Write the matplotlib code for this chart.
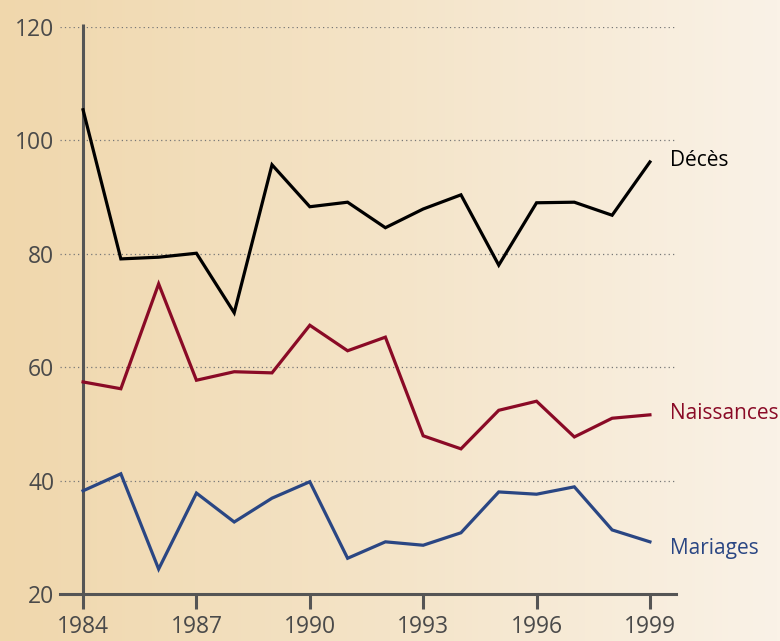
import numpy as np
import matplotlib
matplotlib.use("Agg")
import matplotlib.pyplot as plt
from matplotlib.colors import LinearSegmentedColormap

years = list(range(1984, 2000))
deces = [105.4, 79.1, 79.4, 80.1, 69.6, 95.7, 88.3, 89.1, 84.6, 87.9,
         90.4, 78.0, 89.0, 89.1, 86.8, 96.2]
naissances = [57.4, 56.2, 74.7, 57.7, 59.2, 59.0, 67.4, 62.9, 65.3, 47.9,
              45.6, 52.4, 54.0, 47.7, 51.0, 51.6]
mariages = [38.2, 41.2, 24.4, 37.8, 32.7, 36.9, 39.8, 26.3, 29.2, 28.6,
            30.8, 38.0, 37.6, 38.9, 31.3, 29.2]

series_names = ["Décès", "Naissances", "Mariages"]
series_colors = ["#000000", "#8a0a26", "#2a4683"]
xticks = [1984, 1987, 1990, 1993, 1996, 1999]
yticks = [20, 40, 60, 80, 100, 120]

plt.rcParams["font.family"] = ["Open Sans", "DejaVu Sans"]

fig = plt.figure(figsize=(7.8, 6.41), dpi=100)

# background gradient
bg = fig.add_axes([0, 0, 1, 1], zorder=-1)
cmap = LinearSegmentedColormap.from_list("bg", ["#f0d7ac", "#f4e4c8", "#faf2e7"])
bg.imshow(np.linspace(0, 1, 256).reshape(1, -1), aspect="auto", cmap=cmap,
          extent=[0, 1, 0, 1])
bg.axis("off")

ax = fig.add_axes([60 / 780, 47 / 641, 616 / 780, 567 / 641])
ax.set_facecolor("none")
ax.set_xlim(1983.39, 1999.69)
ax.set_ylim(20, 120)

axis_col = "#555555"
for s in ["top", "right", "left"]:
    ax.spines[s].set_visible(False)
ax.spines["bottom"].set_color(axis_col)
ax.spines["bottom"].set_linewidth(2.2)

# y axis line drawn at 1984
ax.plot([1984, 1984], [20, 120.6], color=axis_col, lw=2.2, clip_on=False,
        solid_capstyle="butt", zorder=3)

for y in yticks[1:]:
    ax.axhline(y, color="#777777", lw=0.9, ls=(0, (1, 2.5)), zorder=1)

for vals, col in zip([deces, naissances, mariages], series_colors):
    ax.plot(years, vals, color=col, lw=2.3, zorder=4, solid_joinstyle="miter")

label_y = [96.5, 51.8, 28.0]
for name, col, ly in zip(series_names, series_colors, label_y):
    ax.text(1999.52, ly, name, color=col, fontsize=15,
            ha="left", va="center", clip_on=False)

ax.set_xticks(xticks)
ax.set_xticklabels([str(x) for x in xticks])
ax.set_yticks(yticks)
ax.set_yticklabels([str(y) for y in yticks])
ax.tick_params(axis="x", direction="out", length=11, width=2.2, color=axis_col,
               labelsize=16.5, labelcolor="#4a4a4a", pad=4)
ax.tick_params(axis="y", length=0, labelsize=16.5, labelcolor="#4a4a4a", pad=4)

fig.savefig("out.png", dpi=100)
